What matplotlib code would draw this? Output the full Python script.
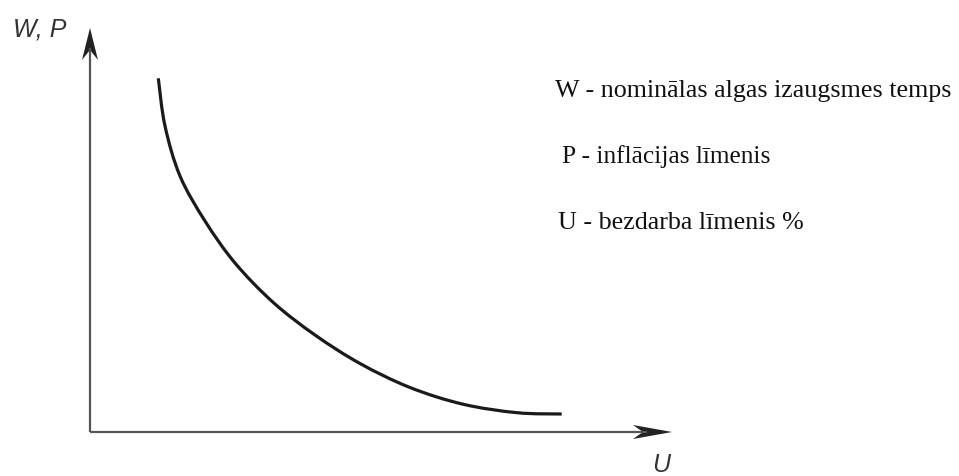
import matplotlib
matplotlib.use("Agg")
import matplotlib.pyplot as plt
from matplotlib.patches import Polygon, PathPatch
from matplotlib.path import Path

# Phillips curve (arbitrary units)
U_vals = [6.83, 7.5, 9.0, 11.5, 14.5, 18.33, 22.5, 27.0, 32.0, 37.3, 42.7, 47.17]
W_vals = [35.37, 30.6, 25.6, 21.1, 16.9, 12.95, 9.7, 6.85, 4.45, 2.78, 1.93, 1.8]

x_label = "U"
y_label = "W, P"
legend_lines = ["W - nominālas algas izaugsmes temps",
                "P - inflācijas līmenis",
                "U - bezdarba līmenis %"]

fig = plt.figure(figsize=(9.59, 4.76), dpi=100)
ax = fig.add_axes([0, 0, 1, 1])
ax.set_xlim(-9.0, 86.9)
ax.set_ylim(-4.4, 43.2)
ax.axis("off")

axis_col = "#555555"
x_end = 58.2
y_end = 40.4
# axes lines
ax.plot([0, 0], [0, y_end - 2.0], color=axis_col, lw=1.6, solid_capstyle="butt")
ax.plot([0, x_end - 2.5], [0, 0], color=axis_col, lw=1.6, solid_capstyle="butt")
# stealth arrowheads
ax.add_patch(Polygon([(0, y_end), (-0.8, y_end - 3.2), (0, y_end - 2.2), (0.8, y_end - 3.2)],
                     closed=True, color="#222222", lw=0))
ax.add_patch(Polygon([(x_end, 0), (x_end - 3.9, 0.7), (x_end - 2.9, 0), (x_end - 3.9, -0.7)],
                     closed=True, color="#222222", lw=0))

# smooth curve through the read points (Catmull-Rom -> cubic Bezier)
pts = list(zip(U_vals, W_vals))
verts = [pts[0]]
codes = [Path.MOVETO]
n = len(pts)
for i in range(n - 1):
    p0 = pts[i - 1] if i > 0 else pts[i]
    p1 = pts[i]
    p2 = pts[i + 1]
    p3 = pts[i + 2] if i + 2 < n else pts[i + 1]
    c1 = (p1[0] + (p2[0] - p0[0]) / 6.0, p1[1] + (p2[1] - p0[1]) / 6.0)
    c2 = (p2[0] - (p3[0] - p1[0]) / 6.0, p2[1] - (p3[1] - p1[1]) / 6.0)
    verts += [c1, c2, p2]
    codes += [Path.CURVE4] * 3
ax.add_patch(PathPatch(Path(verts, codes), facecolor="none", edgecolor="#1a1a1a",
                       lw=2.3, capstyle="butt", joinstyle="round"))

# axis labels
ax.text(-7.7, 40.3, y_label, fontsize=18, style="italic", family="Liberation Sans",
        color="#333333", ha="left", va="center")
ax.text(57.1, -3.3, x_label, fontsize=18, style="italic", family="Liberation Sans",
        color="#333333", ha="center", va="center")

# legend texts
leg_x = [46.5, 47.2, 46.8]
leg_y = [33.5, 26.9, 20.3]
for t, lx, ly, fs in zip(legend_lines, leg_x, leg_y, [18.7, 18.3, 18.7]):
    ax.text(lx, ly, t, fontsize=fs, family="Liberation Serif", color="#111111",
            ha="left", va="baseline")

fig.savefig("out.png", dpi=100)
